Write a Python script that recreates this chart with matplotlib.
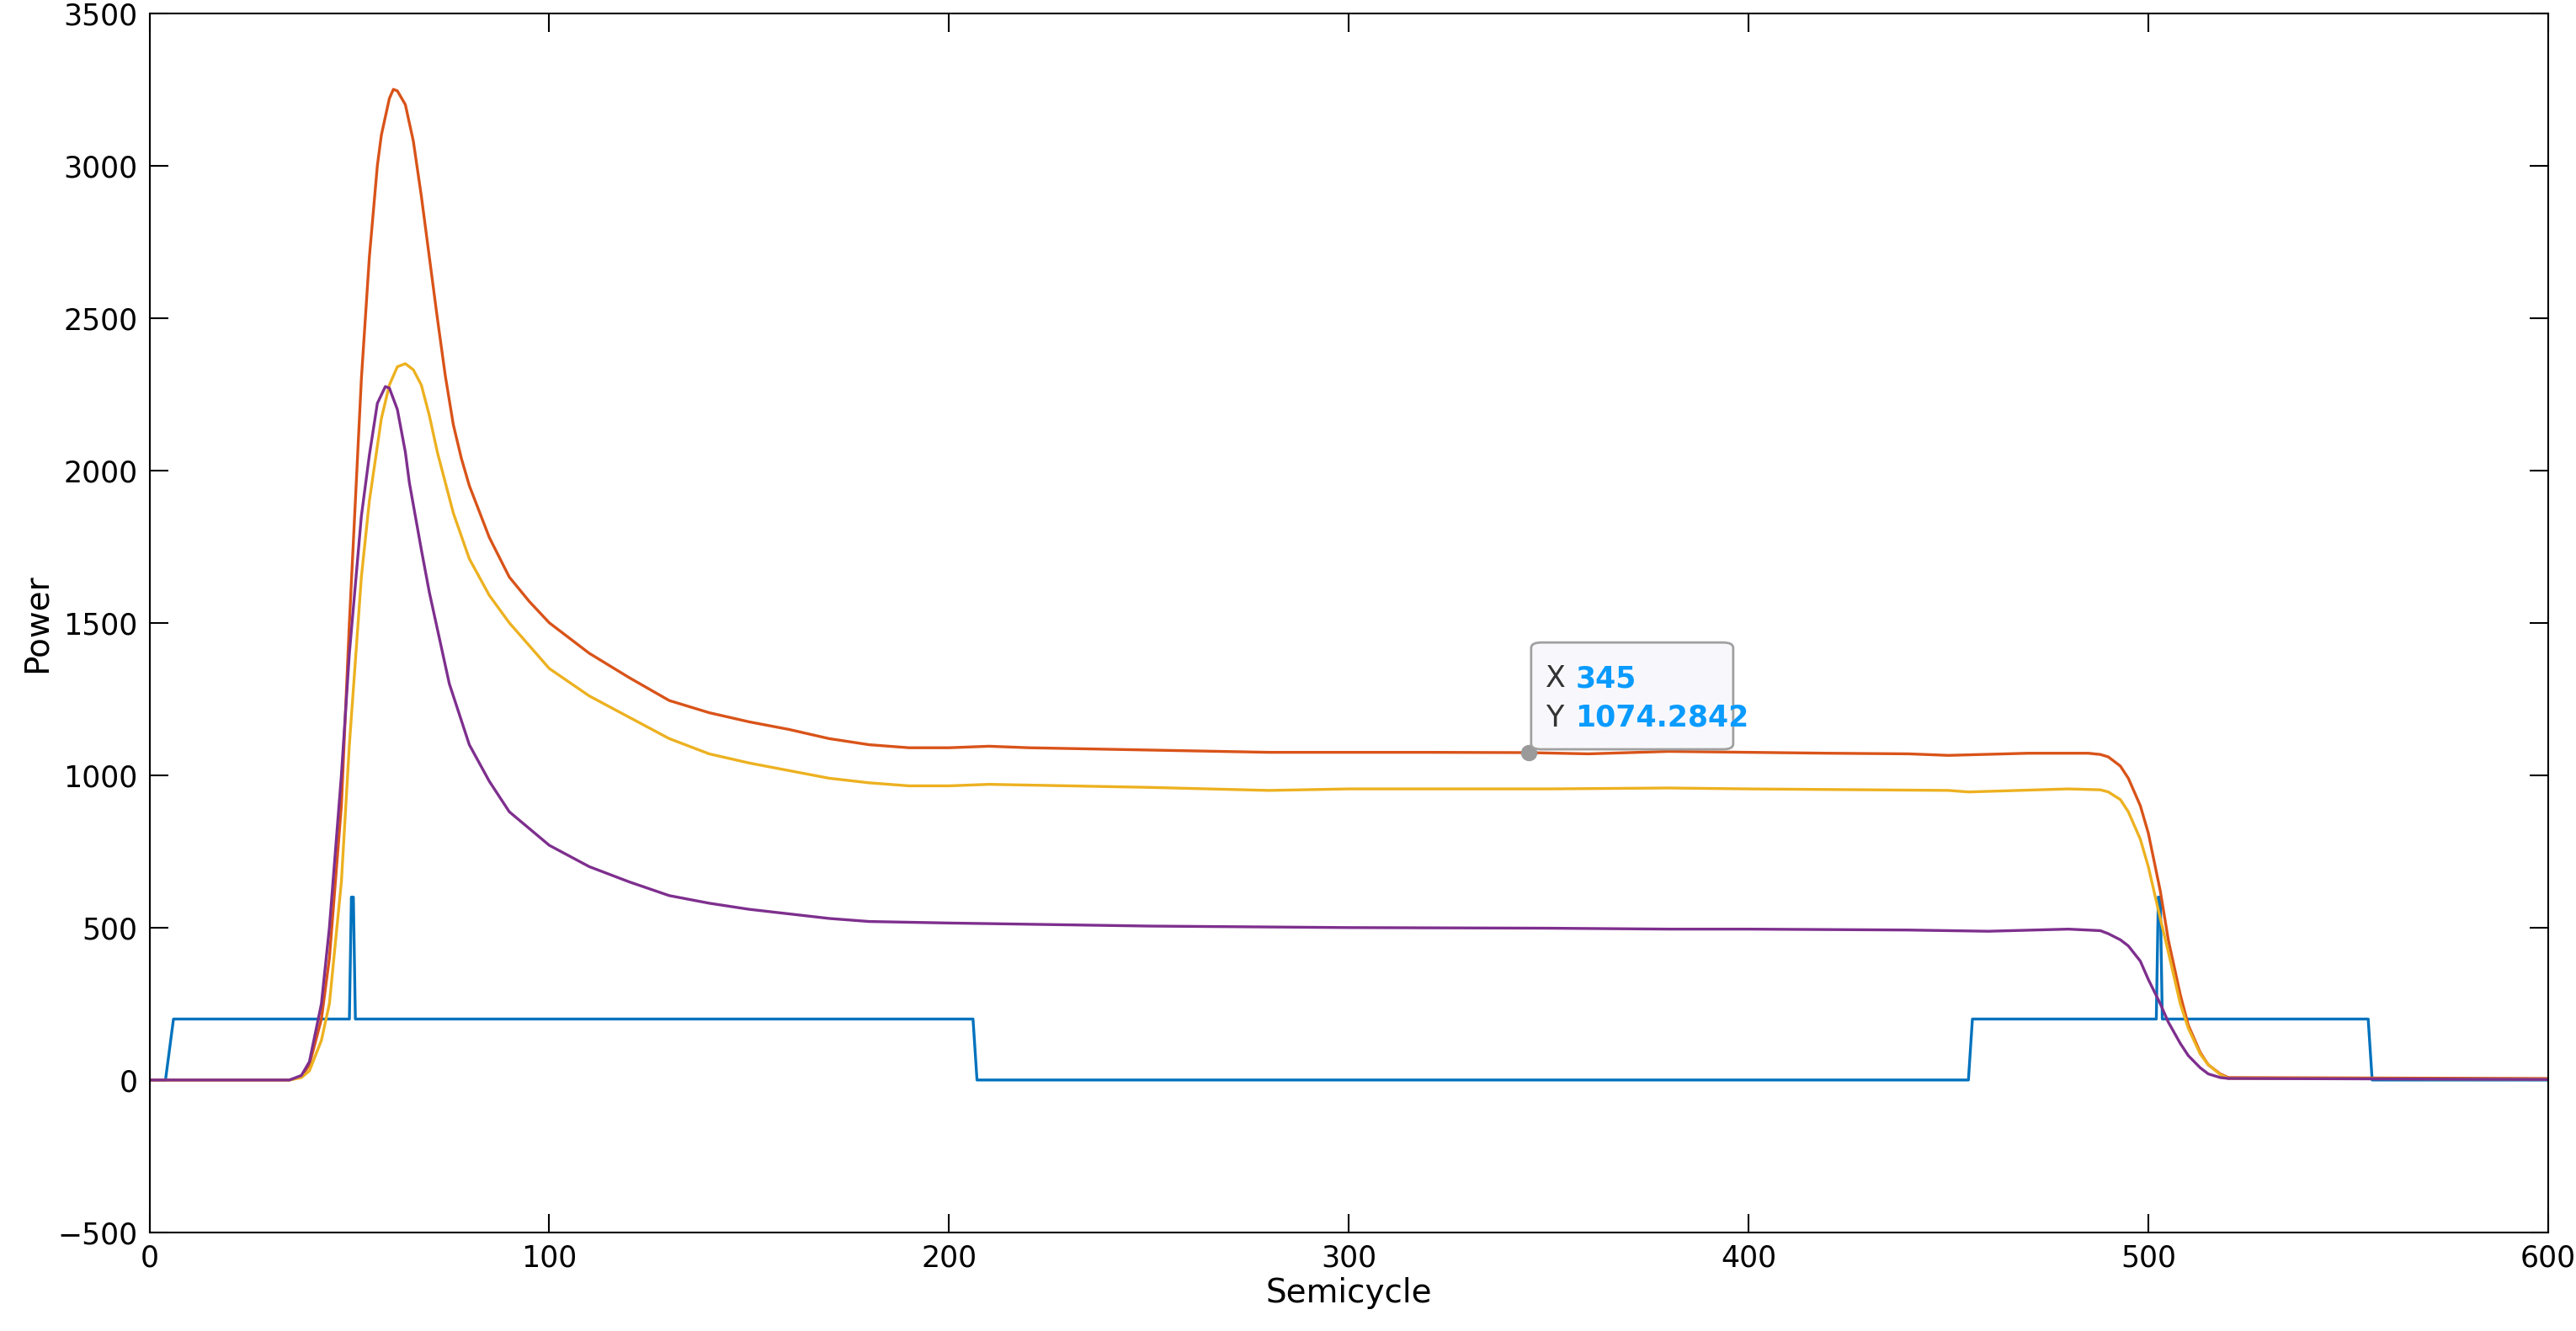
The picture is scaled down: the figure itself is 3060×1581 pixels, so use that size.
import matplotlib
matplotlib.use("Agg")
import matplotlib.pyplot as plt
from matplotlib.patches import FancyBboxPatch

blue_x = [0, 4, 6, 50, 50.5, 51, 51.5, 52, 206, 207, 455, 456, 502, 502.5, 503, 503.5, 504, 555, 556, 600]
blue_y = [0, 0, 200, 200, 600, 600, 200, 200, 200, 0, 0, 200, 200, 600, 600, 200, 200, 200, 0, 0]

red_x = [0, 35, 38, 40, 43, 45, 48, 50, 53, 55, 57, 58, 60, 61, 62, 64, 66, 68, 70, 72, 74, 76, 78, 80, 85, 90, 95, 100, 110, 120, 130, 140, 150, 160, 170, 180, 190, 200, 210, 220, 240, 260, 280, 300, 320, 345, 360, 380, 400, 420, 440, 450, 470, 485, 488, 490, 493, 495, 498, 500, 503, 505, 508, 510, 513, 515, 518, 520, 600]
red_y = [0, 0, 10, 50, 200, 400, 900, 1500, 2300, 2700, 3000, 3100, 3220, 3250, 3245, 3200, 3080, 2900, 2700, 2500, 2310, 2150, 2040, 1950, 1780, 1650, 1570, 1500, 1400, 1320, 1245, 1205, 1175, 1150, 1120, 1100, 1090, 1090, 1095, 1090, 1085, 1080, 1075, 1075, 1075, 1074, 1070, 1078, 1075, 1072, 1070, 1065, 1072, 1072, 1068, 1060, 1030, 990, 900, 810, 620, 460, 280, 180, 90, 50, 20, 8, 5]

yel_x = [0, 35, 38, 40, 43, 45, 48, 50, 53, 55, 58, 60, 62, 64, 66, 68, 70, 72, 76, 80, 85, 90, 100, 110, 120, 130, 140, 150, 160, 170, 180, 190, 200, 210, 250, 280, 300, 350, 380, 400, 450, 455, 480, 488, 490, 493, 495, 498, 500, 503, 505, 508, 510, 513, 515, 518, 520, 600]
yel_y = [0, 0, 8, 30, 130, 250, 650, 1100, 1650, 1900, 2170, 2280, 2340, 2350, 2330, 2280, 2180, 2060, 1860, 1710, 1590, 1500, 1350, 1260, 1190, 1120, 1070, 1040, 1015, 990, 975, 965, 965, 970, 960, 950, 955, 955, 958, 955, 950, 945, 955, 952, 945, 920, 880, 790, 700, 530, 420, 250, 170, 85, 50, 18, 5, 3]

pur_x = [0, 35, 38, 40, 43, 45, 48, 50, 53, 55, 57, 59, 60, 62, 64, 65, 68, 70, 73, 75, 78, 80, 85, 90, 100, 110, 120, 130, 140, 150, 160, 170, 180, 200, 250, 300, 350, 380, 400, 440, 460, 480, 488, 490, 493, 495, 498, 500, 503, 505, 508, 510, 513, 515, 518, 520, 600]
pur_y = [0, 0, 15, 60, 250, 500, 1000, 1400, 1850, 2050, 2220, 2275, 2270, 2200, 2060, 1960, 1740, 1600, 1420, 1300, 1180, 1100, 980, 880, 770, 700, 650, 605, 580, 560, 545, 530, 520, 515, 505, 500, 498, 495, 495, 492, 488, 495, 490, 480, 460, 440, 390, 330, 250, 190, 120, 80, 40, 20, 8, 5, 2]

xticks = [0, 100, 200, 300, 400, 500, 600]
yticks = [-500, 0, 500, 1000, 1500, 2000, 2500, 3000, 3500]
tip_x, tip_y = 345, 1074.2842

W, H = 1568.0, 810.0  # reference coordinate frame used for layout fractions
fig = plt.figure(figsize=(30.6, 15.81), dpi=100)
ax = fig.add_axes([91/W, 1-750/H, 1460/W, 742/H])
lw = 2.4
ax.plot(blue_x, blue_y, color="#0072BD", lw=lw)
ax.plot(red_x, red_y, color="#D95319", lw=lw)
ax.plot(yel_x, yel_y, color="#EDB120", lw=lw)
ax.plot(pur_x, pur_y, color="#7E2F8E", lw=lw)
ax.set_xlim(0, 600)
ax.set_ylim(-500, 3500)
ax.set_xticks(xticks)
ax.set_yticks(yticks)
ax.tick_params(direction="in", top=True, right=True, labelsize=25, length=16, width=1.5, pad=10)
for s in ax.spines.values():
    s.set_linewidth(1.5)
ax.set_xlabel("Semicycle", fontsize=28)
ax.set_ylabel("Power", fontsize=28)

ax.plot([tip_x], [tip_y], "o", color="#9a9a9a", ms=13, zorder=5)
box = FancyBboxPatch((932/W, 1-456/H), 123/W, 65/H, boxstyle="round,pad=0,rounding_size=0.004",
                     transform=fig.transFigure, facecolor="#f8f8fc", edgecolor="#a0a0a0", lw=2, zorder=6)
fig.patches.append(box)
fig.text(941/W, 1-413/H, "X", fontsize=25, color="#333333", va="center", zorder=7)
fig.text(959/W, 1-413/H, f"{tip_x}", fontsize=25, color="#0a9bff", weight="bold", va="center", zorder=7)
fig.text(941/W, 1-437/H, "Y", fontsize=25, color="#333333", va="center", zorder=7)
fig.text(959/W, 1-437/H, f"{tip_y:.4f}", fontsize=25, color="#0a9bff", weight="bold", va="center", zorder=7)
fig.savefig("out.png", dpi=100)
